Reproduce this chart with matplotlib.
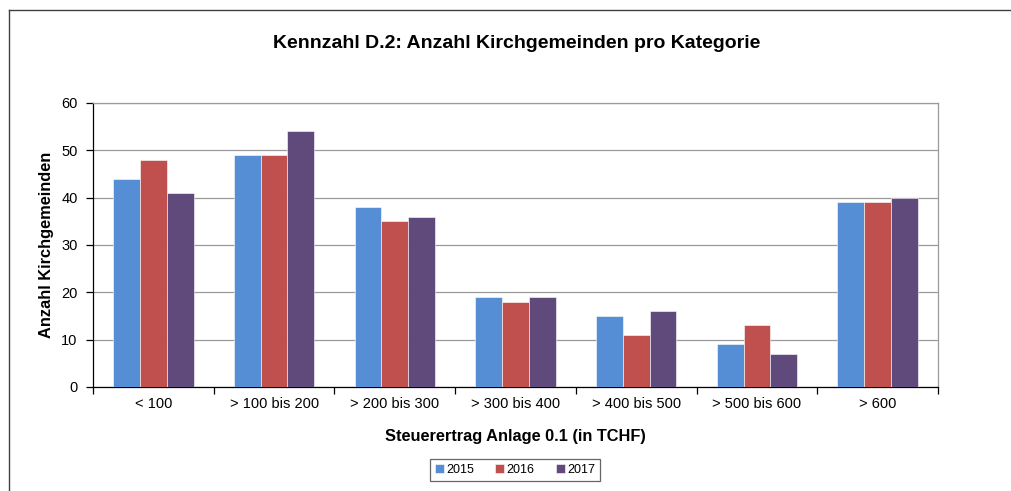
import matplotlib.pyplot as plt
import numpy as np
from matplotlib.lines import Line2D

plt.rcParams["font.family"] = ["Liberation Sans", "DejaVu Sans"]

CATEGORIES = ["< 100", "> 100 bis 200", "> 200 bis 300", "> 300 bis 400",
              "> 400 bis 500", "> 500 bis 600", "> 600"]
YEARS = ["2015", "2016", "2017"]
VALUES_2015 = [44, 49, 38, 19, 15, 9, 39]
VALUES_2016 = [48, 49, 35, 18, 11, 13, 39]
VALUES_2017 = [41, 54, 36, 19, 16, 7, 40]
COLORS = ["#558ED5", "#C0504D", "#604A7B"]

W, H = 1011, 491


def main():
    fig = plt.figure(figsize=(W / 100, H / 100), dpi=100)
    ax = fig.add_axes([93 / W, 1 - 387 / H, (938 - 93) / W, (387 - 103) / H])

    x = np.arange(len(CATEGORIES))
    width = 1 / 4.5
    for i, (vals, color, year) in enumerate(zip([VALUES_2015, VALUES_2016, VALUES_2017], COLORS, YEARS)):
        ax.bar(x + (i - 1) * width, vals, width, color=color, label=year,
               edgecolor="white", linewidth=0.4, zorder=3)

    ax.set_xlim(-0.5, len(CATEGORIES) - 0.5)
    ax.set_ylim(0, 60)
    ax.set_yticks(range(0, 61, 10))
    ax.yaxis.grid(True, color="#9a9a9a", linewidth=0.9, zorder=0)
    ax.set_xticks(x)
    ax.set_xticklabels(CATEGORIES, fontsize=10.5)
    ax.set_xticks(np.arange(-0.5, len(CATEGORIES)), minor=True)
    ax.tick_params(axis="x", which="major", length=0, pad=7)
    ax.tick_params(axis="x", which="minor", length=5, width=0.9, direction="out")
    ax.tick_params(axis="y", labelsize=10.5, length=5, width=0.9, direction="out", pad=6)

    for side in ["top", "right"]:
        ax.spines[side].set_color("#9a9a9a")
        ax.spines[side].set_linewidth(0.9)
    for side in ["left", "bottom"]:
        ax.spines[side].set_color("black")
        ax.spines[side].set_linewidth(0.9)

    ax.set_ylabel("Anzahl Kirchgemeinden", fontsize=11.8, fontweight="bold", labelpad=5)
    ax.set_xlabel("Steuerertrag Anlage 0.1 (in TCHF)", fontsize=11.8, fontweight="bold", labelpad=13)

    fig.text(517 / W, 1 - 43 / H, "Kennzahl D.2: Anzahl Kirchgemeinden pro Kategorie",
             ha="center", va="center", fontsize=14, fontweight="bold")

    # outer chart frame (only top and left edges visible)
    fig.add_artist(Line2D([9 / W, 1.0], [1 - 10 / H, 1 - 10 / H], color="#404040", linewidth=1.0))
    fig.add_artist(Line2D([9 / W, 9 / W], [1 - 10 / H, 0.0], color="#404040", linewidth=1.0))

    leg = fig.legend(loc="center", bbox_to_anchor=(515 / W, 1 - 470 / H), ncol=3,
                     fontsize=9, frameon=True, fancybox=False, handlelength=0.7,
                     handleheight=0.7, handletextpad=0.2, columnspacing=1.7,
                     borderpad=0.4)
    leg.get_frame().set_edgecolor("#404040")
    leg.get_frame().set_linewidth(0.9)

    fig.savefig("out.png", dpi=100)
    plt.close(fig)


if __name__ == "__main__":
    main()
